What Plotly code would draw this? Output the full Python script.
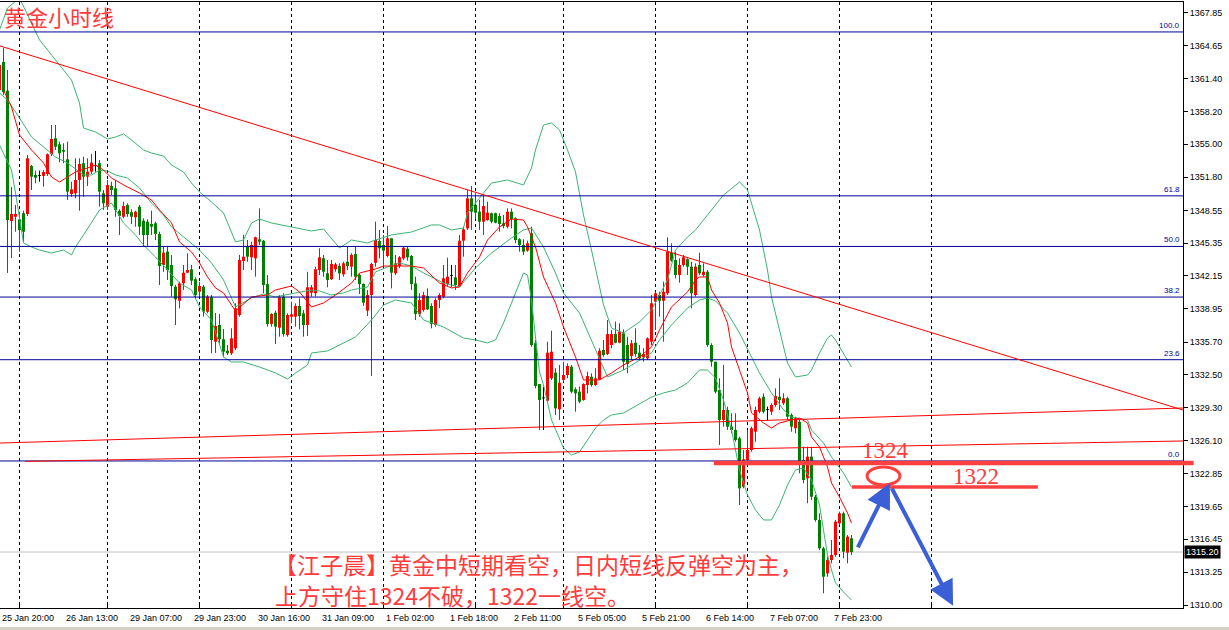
import plotly.graph_objects as go

# ---------------- hourly candles (bar index starts at -1) ----------------
FIRST_BAR = -1
OPEN = [
    1360.30, 1363.04, 1360.24, 1347.52, 1347.93, 1347.68, 1348.27, 1348.20, 1352.88, 1352.01,
    1351.91, 1351.91, 1352.10, 1354.06, 1355.59, 1355.00, 1354.45, 1353.54, 1350.15, 1350.22,
    1351.52, 1353.15, 1351.84, 1352.33, 1352.88, 1353.15, 1350.22, 1348.91, 1350.93, 1350.71,
    1348.52, 1347.93, 1349.08, 1348.37, 1347.88, 1348.91, 1347.54, 1347.45, 1347.22, 1347.29,
    1346.25, 1343.22, 1344.52, 1343.22, 1341.10, 1339.73, 1341.43, 1342.47, 1342.80, 1341.83,
    1340.61, 1341.10, 1338.66, 1340.07, 1335.73, 1337.36, 1335.97, 1334.85, 1334.60, 1335.09,
    1338.34, 1343.61, 1345.00, 1343.97, 1343.87, 1345.73, 1345.59, 1341.36, 1337.46, 1338.56,
    1337.10, 1340.13, 1336.39, 1338.17, 1338.17, 1339.22, 1338.50, 1337.36, 1340.52, 1340.46,
    1342.73, 1343.87, 1342.41, 1341.83, 1342.80, 1343.12, 1342.31, 1343.54, 1343.05, 1344.29,
    1342.24, 1341.36, 1338.76, 1340.29, 1343.44, 1345.56, 1345.17, 1344.10, 1345.83, 1342.41,
    1343.12, 1343.87, 1344.81, 1344.10, 1341.43, 1338.41, 1338.83, 1340.19, 1339.22, 1337.36,
    1339.80, 1340.13, 1341.36, 1342.15, 1342.02, 1341.17, 1345.59, 1346.80, 1349.73, 1349.08,
    1348.42, 1347.45, 1347.61, 1348.27, 1348.27, 1348.00, 1347.29, 1346.96, 1348.42, 1347.78,
    1345.73, 1345.17, 1344.62, 1346.32, 1335.58, 1331.60, 1330.21, 1329.97, 1332.16, 1332.71,
    1329.13, 1332.00, 1332.48, 1333.29, 1331.09, 1330.85, 1330.04, 1331.50, 1332.31, 1331.50,
    1332.06, 1334.92, 1334.53, 1335.41, 1336.48, 1335.63, 1336.55, 1335.41, 1334.34, 1335.63,
    1334.66, 1334.21, 1334.11, 1335.73, 1339.64, 1340.29, 1339.73, 1340.46, 1344.42, 1343.71,
    1342.24, 1343.22, 1343.78, 1343.05, 1340.29, 1343.22, 1342.24, 1342.56, 1335.41, 1333.78,
    1331.02, 1328.09, 1329.07, 1327.44, 1327.11, 1326.30, 1321.58, 1324.18, 1325.16, 1326.95,
    1328.90, 1330.36, 1329.07, 1328.90, 1329.55, 1330.36, 1329.72, 1330.21, 1328.58, 1327.28,
    1327.92, 1324.18, 1322.40, 1324.51, 1320.60, 1318.33, 1315.56, 1313.12, 1314.42, 1314.91,
    1318.00, 1318.98, 1315.14, 1316.54,
]
HIGH = [
    1363.04, 1364.40, 1362.26, 1350.84, 1349.08, 1348.42, 1348.52, 1353.96, 1352.98, 1352.43,
    1352.43, 1352.49, 1354.12, 1356.89, 1356.89, 1355.26, 1355.10, 1355.26, 1351.35, 1353.64,
    1353.64, 1353.79, 1353.64, 1354.06, 1354.35, 1353.47, 1350.54, 1351.52, 1351.35, 1351.52,
    1348.66, 1349.40, 1349.24, 1348.66, 1348.52, 1349.08, 1347.78, 1347.68, 1348.52, 1347.45,
    1346.47, 1345.00, 1345.00, 1344.20, 1341.27, 1341.59, 1343.22, 1344.36, 1343.22, 1342.02,
    1341.59, 1341.27, 1340.29, 1340.29, 1338.53, 1338.44, 1336.97, 1335.41, 1337.04, 1339.48,
    1344.20, 1346.15, 1345.66, 1345.49, 1345.98, 1348.75, 1345.66, 1342.24, 1338.50, 1338.76,
    1340.29, 1340.46, 1338.50, 1339.64, 1339.48, 1339.97, 1338.83, 1342.56, 1341.27, 1343.05,
    1344.85, 1344.20, 1343.71, 1343.71, 1343.44, 1343.38, 1343.54, 1345.00, 1344.36, 1345.00,
    1342.41, 1341.43, 1340.78, 1343.44, 1347.45, 1346.64, 1346.15, 1347.03, 1345.83, 1344.20,
    1344.10, 1345.00, 1345.00, 1344.20, 1342.08, 1340.46, 1340.61, 1340.94, 1339.48, 1339.97,
    1340.46, 1343.22, 1343.93, 1343.22, 1343.22, 1346.15, 1346.96, 1350.54, 1350.93, 1350.22,
    1349.57, 1350.05, 1349.40, 1348.33, 1348.33, 1348.27, 1348.10, 1348.75, 1348.75, 1347.88,
    1345.83, 1345.73, 1345.59, 1346.96, 1335.90, 1331.60, 1331.34, 1335.73, 1336.81, 1333.14,
    1333.46, 1333.78, 1333.62, 1333.46, 1331.28, 1331.34, 1331.67, 1332.80, 1332.65, 1333.14,
    1335.09, 1335.90, 1337.85, 1336.87, 1337.69, 1337.53, 1336.94, 1336.22, 1335.90, 1337.04,
    1335.41, 1335.09, 1336.16, 1340.29, 1340.61, 1340.61, 1341.59, 1345.92, 1345.34, 1344.52,
    1343.87, 1344.20, 1343.87, 1343.54, 1343.38, 1344.42, 1343.38, 1342.73, 1335.58, 1333.78,
    1332.16, 1333.46, 1329.39, 1328.74, 1328.74, 1326.46, 1325.16, 1327.11, 1327.44, 1329.39,
    1330.36, 1330.69, 1329.39, 1329.72, 1331.18, 1332.16, 1330.69, 1330.36, 1328.74, 1328.41,
    1328.09, 1325.48, 1325.48, 1325.48, 1320.77, 1318.98, 1315.72, 1314.75, 1316.37, 1318.33,
    1319.14, 1319.14, 1316.86, 1316.86,
]
LOW = [
    1359.82, 1359.82, 1342.44, 1343.90, 1346.47, 1344.52, 1345.49, 1348.00, 1350.54, 1351.20,
    1351.35, 1350.86, 1351.91, 1353.86, 1354.45, 1353.25, 1353.15, 1349.57, 1349.89, 1349.73,
    1348.52, 1349.89, 1350.93, 1352.10, 1352.33, 1348.91, 1348.59, 1348.59, 1350.05, 1347.93,
    1346.15, 1347.78, 1347.93, 1347.22, 1346.96, 1346.15, 1345.00, 1345.07, 1346.15, 1345.66,
    1341.27, 1342.56, 1341.76, 1340.13, 1337.36, 1338.99, 1340.78, 1342.41, 1341.27, 1339.97,
    1340.13, 1338.17, 1338.50, 1334.60, 1334.63, 1335.57, 1334.21, 1334.43, 1334.43, 1334.92,
    1338.17, 1342.73, 1343.54, 1342.73, 1342.08, 1345.17, 1340.46, 1337.20, 1337.20, 1335.51,
    1336.22, 1336.22, 1336.22, 1337.53, 1337.20, 1336.94, 1336.22, 1336.29, 1340.13, 1340.13,
    1342.24, 1342.08, 1341.04, 1341.76, 1342.56, 1341.76, 1342.08, 1342.73, 1342.08, 1341.76,
    1340.39, 1339.22, 1338.24, 1332.38, 1343.05, 1343.87, 1343.05, 1343.97, 1340.94, 1342.24,
    1342.90, 1343.71, 1343.64, 1340.78, 1337.85, 1338.17, 1338.66, 1338.83, 1337.04, 1337.20,
    1339.00, 1339.97, 1341.17, 1341.10, 1340.78, 1341.10, 1344.03, 1346.64, 1346.64, 1347.68,
    1346.64, 1346.15, 1347.54, 1347.29, 1347.29, 1346.47, 1346.80, 1346.80, 1346.80, 1345.34,
    1344.52, 1344.20, 1344.52, 1335.24, 1331.18, 1327.11, 1327.11, 1329.88, 1332.00, 1328.58,
    1328.09, 1331.83, 1332.16, 1330.69, 1328.90, 1329.72, 1329.97, 1330.69, 1331.34, 1331.41,
    1332.00, 1334.27, 1334.43, 1335.09, 1335.58, 1335.58, 1332.97, 1332.65, 1333.95, 1334.27,
    1333.95, 1333.78, 1333.95, 1335.41, 1336.87, 1338.17, 1335.73, 1340.29, 1343.54, 1341.92,
    1341.49, 1343.05, 1342.24, 1338.99, 1340.13, 1342.24, 1342.08, 1335.24, 1333.29, 1330.69,
    1325.65, 1327.44, 1327.11, 1326.79, 1325.97, 1319.79, 1321.42, 1323.86, 1325.00, 1325.97,
    1328.74, 1328.74, 1328.02, 1328.58, 1329.39, 1329.07, 1329.55, 1328.09, 1326.95, 1326.79,
    1322.88, 1321.91, 1319.96, 1320.28, 1318.16, 1315.40, 1311.17, 1312.79, 1314.10, 1314.75,
    1317.84, 1314.59, 1314.10, 1314.91,
]
CLOSE = [
    1362.74, 1360.11, 1347.61, 1348.20, 1348.20, 1346.64, 1346.47, 1353.64, 1351.84, 1351.74,
    1351.91, 1352.30, 1354.03, 1355.52, 1354.77, 1354.12, 1354.28, 1350.38, 1350.61, 1351.52,
    1353.08, 1351.84, 1352.33, 1353.21, 1352.88, 1350.38, 1349.24, 1351.03, 1350.54, 1348.59,
    1348.00, 1348.98, 1348.20, 1347.93, 1348.42, 1346.96, 1346.15, 1346.15, 1346.96, 1346.25,
    1343.12, 1344.42, 1342.73, 1341.17, 1339.87, 1341.43, 1342.47, 1342.73, 1341.69, 1340.29,
    1341.17, 1338.66, 1340.13, 1335.90, 1337.27, 1335.97, 1334.76, 1334.60, 1336.06, 1338.99,
    1343.71, 1344.03, 1344.03, 1345.17, 1345.92, 1345.49, 1341.27, 1337.46, 1338.44, 1337.20,
    1340.07, 1336.48, 1338.34, 1338.41, 1339.22, 1338.24, 1337.36, 1341.04, 1341.04, 1342.80,
    1343.97, 1342.56, 1341.76, 1343.32, 1343.29, 1342.41, 1343.38, 1343.12, 1344.20, 1342.08,
    1341.36, 1339.54, 1340.29, 1343.32, 1345.66, 1344.85, 1344.62, 1345.83, 1342.47, 1343.38,
    1343.97, 1344.91, 1343.97, 1341.36, 1338.44, 1339.80, 1340.29, 1338.89, 1337.46, 1339.80,
    1340.29, 1341.92, 1342.08, 1342.15, 1341.27, 1345.59, 1346.70, 1349.73, 1348.42, 1348.33,
    1347.45, 1348.98, 1348.33, 1347.45, 1347.35, 1347.22, 1347.03, 1348.42, 1347.68, 1345.66,
    1345.17, 1344.52, 1345.34, 1335.41, 1331.41, 1330.04, 1330.21, 1334.66, 1334.76, 1329.23,
    1331.73, 1332.48, 1333.36, 1330.85, 1330.69, 1329.88, 1331.60, 1332.38, 1331.50, 1332.16,
    1334.85, 1334.43, 1336.48, 1336.48, 1335.63, 1336.71, 1333.78, 1333.56, 1335.58, 1334.53,
    1334.11, 1334.53, 1336.06, 1339.48, 1340.46, 1339.73, 1340.61, 1344.52, 1343.64, 1342.24,
    1343.22, 1343.97, 1343.05, 1340.46, 1343.05, 1342.41, 1342.56, 1335.41, 1333.78, 1330.85,
    1328.09, 1329.07, 1327.44, 1327.11, 1326.14, 1321.42, 1324.25, 1325.16, 1327.28, 1329.07,
    1330.21, 1328.90, 1329.07, 1329.55, 1330.43, 1330.04, 1330.21, 1328.41, 1327.44, 1328.25,
    1323.86, 1322.23, 1324.51, 1320.60, 1318.33, 1315.56, 1312.79, 1314.42, 1314.91, 1318.16,
    1318.98, 1315.23, 1316.70, 1315.20,
]
BARS = list(range(FIRST_BAR, FIRST_BAR + len(CLOSE)))

# ---------------- indicator lines ----------------
UPPER_BARS = [-1, 1, 4, 9, 14, 17, 19, 20, 23, 26, 28, 30, 32, 35, 37, 40, 42, 45, 47, 49,
              52, 55, 58, 60, 62, 64, 67, 72, 77, 80, 84, 87, 91, 93, 97, 102, 107, 109, 112, 115,
              116, 118, 120, 122, 126, 130, 132, 133, 135, 137, 139, 141, 143, 145, 147, 149, 150, 152, 155, 159,
              162, 166, 168, 171, 173, 177, 180, 184, 186, 189, 191, 192, 194, 196, 198, 201, 202, 204, 206, 207,
              208, 210, 212]
UPPER = [1366.16, 1368.31, 1369.29, 1365.19, 1362.74, 1361.28, 1359.03, 1356.59, 1356.20, 1355.52,
         1355.72, 1356.01, 1355.42, 1354.45, 1354.15, 1353.86, 1352.98, 1352.30, 1351.22, 1350.35,
         1349.37, 1348.30, 1345.47, 1345.66, 1347.32, 1347.71, 1347.32, 1346.93, 1346.54, 1346.74,
         1344.88, 1345.66, 1345.37, 1345.66, 1346.15, 1346.44, 1347.13, 1347.13, 1346.64, 1346.83,
         1348.30, 1349.27, 1350.25, 1351.22, 1351.52, 1351.03, 1352.69, 1354.45, 1356.89, 1357.08,
         1356.40, 1354.45, 1352.30, 1348.10, 1344.68, 1341.27, 1339.32, 1337.07, 1336.58, 1337.66,
         1338.83, 1341.76, 1344.68, 1345.95, 1346.64, 1348.59, 1350.05, 1351.32, 1350.54, 1346.64,
         1342.73, 1340.10, 1336.87, 1333.65, 1332.29, 1332.48, 1332.97, 1334.63, 1336.09, 1336.39,
         1335.90, 1334.63, 1333.26]

MIDDLE_BARS = [-1, 1, 4, 7, 10, 13, 16, 20, 22, 24, 26, 28, 31, 34, 37, 40, 42, 46, 49, 52,
               55, 58, 62, 65, 68, 73, 77, 79, 82, 85, 87, 91, 93, 96, 99, 102, 105, 110, 114, 118,
               122, 127, 130, 132, 135, 138, 140, 144, 147, 150, 151, 155, 159, 162, 164, 167, 171, 174, 176, 178,
               181, 184, 187, 189, 192, 195, 197, 201, 202, 205, 207, 210, 212]
MIDDLE = [1360.01, 1359.33, 1357.57, 1355.72, 1354.74, 1353.76, 1353.18, 1352.01, 1352.01, 1352.49,
          1352.40, 1352.01, 1351.71, 1350.74, 1349.27, 1348.10, 1346.93, 1345.66, 1344.68, 1343.42,
          1341.76, 1339.12, 1340.00, 1340.39, 1340.10, 1340.49, 1340.78, 1340.68, 1340.29, 1340.49,
          1340.78, 1341.07, 1342.54, 1343.03, 1343.42, 1343.12, 1342.44, 1341.46, 1341.07, 1342.93,
          1344.39, 1345.86, 1346.64, 1346.83, 1344.98, 1342.44, 1340.49, 1338.53, 1335.90, 1333.26,
          1332.29, 1332.97, 1333.95, 1334.63, 1335.90, 1337.36, 1339.02, 1339.80, 1340.00, 1339.71,
          1338.53, 1336.58, 1334.24, 1332.68, 1330.73, 1329.07, 1328.38, 1328.09, 1327.11, 1325.84,
          1324.48, 1322.91, 1321.55]

LOWER_BARS = [-1, 0, 2, 3, 4, 5, 7, 9, 12, 15, 17, 18, 20, 22, 24, 27, 30, 33, 35, 38,
              41, 44, 47, 49, 52, 55, 57, 60, 64, 68, 71, 73, 76, 77, 81, 85, 88, 92, 95, 98,
              102, 105, 110, 115, 118, 121, 123, 125, 128, 130, 131, 132, 133, 134, 135, 137, 140, 142, 144, 146,
              148, 150, 152, 155, 159, 162, 165, 168, 171, 174, 176, 178, 180, 182, 184, 186, 188, 190, 192, 194,
              196, 198, 200, 202, 204, 205, 206, 207, 208, 210, 212]
LOWER = [1354.93, 1354.15, 1352.49, 1350.25, 1347.61, 1345.37, 1344.98, 1344.68, 1344.39, 1344.68,
         1344.20, 1344.98, 1346.15, 1347.32, 1348.59, 1349.27, 1347.32, 1346.15, 1345.17, 1344.00,
         1342.73, 1341.46, 1340.78, 1339.12, 1337.85, 1334.24, 1333.75, 1333.75, 1333.26, 1332.68,
         1332.09, 1332.68, 1333.46, 1334.63, 1334.83, 1335.61, 1336.19, 1337.85, 1339.32, 1339.80,
         1339.51, 1337.85, 1337.17, 1336.09, 1335.90, 1335.61, 1335.90, 1337.56, 1340.49, 1342.44,
         1342.24, 1339.80, 1336.19, 1332.78, 1331.51, 1328.09, 1325.36, 1324.67, 1324.97, 1326.14,
         1327.31, 1328.09, 1328.58, 1328.77, 1329.65, 1330.33, 1330.73, 1331.02, 1331.70, 1332.97,
         1332.97, 1332.19, 1330.04, 1327.11, 1323.21, 1320.77, 1319.30, 1318.33, 1318.33, 1319.79,
         1321.74, 1323.21, 1323.40, 1322.23, 1319.79, 1317.35, 1314.91, 1313.45, 1312.18, 1311.30,
         1310.52]

MA_BARS = [0, 2, 4, 7, 10, 12, 14, 16, 18, 21, 23, 25, 27, 31, 34, 37, 39, 42, 44, 47,
           49, 51, 53, 55, 58, 62, 66, 68, 72, 74, 77, 80, 83, 87, 89, 93, 95, 98, 102, 105,
           109, 112, 114, 116, 119, 121, 124, 127, 130, 131, 133, 135, 138, 140, 143, 145, 149, 152, 155, 159,
           162, 164, 167, 171, 173, 174, 176, 177, 179, 181, 182, 184, 186, 187, 190, 192, 194, 197, 199, 201,
           202, 204, 206, 207, 209, 211, 212]
MA = [1360.30, 1358.64, 1355.91, 1354.45, 1353.18, 1351.81, 1351.32, 1351.81, 1352.30, 1352.69,
      1352.98, 1352.49, 1351.71, 1350.83, 1350.25, 1349.57, 1348.59, 1347.32, 1345.47, 1344.49,
      1343.42, 1342.05, 1340.98, 1340.49, 1338.73, 1340.10, 1340.29, 1340.78, 1341.17, 1340.59,
      1339.12, 1339.51, 1340.29, 1341.46, 1342.44, 1342.83, 1343.12, 1343.12, 1343.12, 1342.93,
      1341.46, 1340.98, 1341.07, 1342.44, 1344.00, 1345.66, 1346.93, 1347.71, 1347.61, 1346.93,
      1344.98, 1342.05, 1339.51, 1337.17, 1334.24, 1332.00, 1332.00, 1332.68, 1333.46, 1334.24,
      1335.22, 1336.87, 1339.12, 1340.59, 1341.76, 1342.05, 1342.05, 1340.78, 1339.51, 1337.56,
      1335.22, 1332.97, 1330.73, 1328.77, 1327.80, 1327.31, 1327.80, 1328.09, 1328.28, 1327.80,
      1326.43, 1325.45, 1323.50, 1321.94, 1320.57, 1319.01, 1318.03]

# ---------------- axes ----------------
X_LABEL_BARS = [0, 16, 32, 48, 64, 80, 96, 112, 128, 144, 160, 176, 192, 208]
X_LABELS = ["25 Jan 20:00", "26 Jan 13:00", "29 Jan 07:00", "29 Jan 23:00", "30 Jan 16:00",
            "31 Jan 09:00", "1 Feb 02:00", "1 Feb 18:00", "2 Feb 11:00", "5 Feb 05:00",
            "5 Feb 21:00", "6 Feb 14:00", "7 Feb 07:00", "7 Feb 23:00"]
GRID_BARS = [4, 26, 49, 72, 95, 118, 140, 163, 186, 209, 232]
Y_TICKS = [1310.00, 1313.25, 1316.45, 1319.65, 1322.85, 1326.10, 1329.30, 1332.50, 1335.70,
           1338.95, 1342.15, 1345.35, 1348.55, 1351.80, 1355.00, 1358.20, 1361.40, 1364.65, 1367.85]
X_RANGE = [-0.875, 294.875]
Y_RANGE = [1309.736, 1368.893]

# ---------------- drawn objects ----------------
FIB_LOW, FIB_HIGH = 1324.09, 1365.97
FIB_PCT = [0.0, 23.6, 38.2, 50.0, 61.8, 100.0]
TREND_DOWN_BARS, TREND_DOWN = [-0.875, 294.875], [1364.60, 1329.06]
CHAN_UP_BARS, CHAN_UP = [-0.875, 294.875], [1325.84, 1329.26]
CHAN_LOW_BARS, CHAN_LOW = [5.4, 294.875], [1324.05, 1326.04]
LEVEL_1324_BARS, LEVEL_1324 = [177.6, 294.875], 1323.89
LEVEL_1322_BARS, LEVEL_1322 = [212.1, 258.6], 1321.55
ELLIPSE_BARS, ELLIPSE_PRICES = [215.9, 224.1], [1321.74, 1323.50]
ARROW_UP_TAIL, ARROW_UP_HEAD = (213.4, 1315.50), (221.6, 1321.94)
ARROW_DN_TAIL, ARROW_DN_HEAD = (221.9, 1321.55), (237.4, 1309.95)
LAST_PRICE = 1315.20

TITLE = "黄金小时线"
NOTE_1 = "【江子晨】黄金中短期看空，日内短线反弹空为主，"
NOTE_2 = "上方守住1324不破，1322一线空。"

UP, DOWN, DOJI = "#ff0000", "#008000", "#000000"
BB_COLOR = "#3cb371"
FIB_COLOR = "#000096"
MARK_RED = "#ff4040"
TEXT_RED = "#ff3c3c"
ARROW_BLUE = "#3b5fd6"
LABEL_FONT = "Liberation Sans"
CJK_FONT = "Noto Sans CJK SC"

fig = go.Figure()

# last price line
fig.add_shape(type="line", xref="paper", x0=0, x1=1, yref="y", y0=LAST_PRICE, y1=LAST_PRICE,
              line=dict(color="#c0c0c0", width=1), layer="below")

# candles
colors = [UP if c > o else (DOWN if c < o else DOJI) for o, c in zip(OPEN, CLOSE)]
for col in (UP, DOWN, DOJI):
    xs, ys = [], []
    for b, h, l, cc in zip(BARS, HIGH, LOW, colors):
        if cc == col:
            xs += [b, b, None]
            ys += [l, h, None]
    fig.add_trace(go.Scatter(x=xs, y=ys, mode="lines", line=dict(color=col, width=1),
                             hoverinfo="skip"))
body_base = [min(o, c) for o, c in zip(OPEN, CLOSE)]
body_h = [max(abs(c - o), 0.08) for o, c in zip(OPEN, CLOSE)]
fig.add_trace(go.Bar(x=BARS, y=body_h, base=body_base, width=0.75,
                     marker=dict(color=colors, line=dict(width=0)), hoverinfo="skip"))

# indicators
for bx, vals in ((UPPER_BARS, UPPER), (MIDDLE_BARS, MIDDLE), (LOWER_BARS, LOWER)):
    fig.add_trace(go.Scatter(x=bx, y=vals, mode="lines", line=dict(color=BB_COLOR, width=1),
                             hoverinfo="skip"))
fig.add_trace(go.Scatter(x=MA_BARS, y=MA, mode="lines", line=dict(color="#ff0000", width=1),
                         hoverinfo="skip"))

# fibonacci levels
fib_prices = [FIB_LOW + (FIB_HIGH - FIB_LOW) * p / 100.0 for p in FIB_PCT]
for p in fib_prices:
    fig.add_trace(go.Scatter(x=X_RANGE, y=[p, p], mode="lines",
                             line=dict(color=FIB_COLOR, width=1), hoverinfo="skip"))

# trend lines
for bx, vals in ((TREND_DOWN_BARS, TREND_DOWN), (CHAN_UP_BARS, CHAN_UP), (CHAN_LOW_BARS, CHAN_LOW)):
    fig.add_trace(go.Scatter(x=bx, y=vals, mode="lines", line=dict(color="#ff0000", width=1),
                             hoverinfo="skip"))

# thick key levels
fig.add_trace(go.Scatter(x=LEVEL_1324_BARS, y=[LEVEL_1324] * 2, mode="lines",
                         line=dict(color=MARK_RED, width=4.5), hoverinfo="skip"))
fig.add_trace(go.Scatter(x=LEVEL_1322_BARS, y=[LEVEL_1322] * 2, mode="lines",
                         line=dict(color=MARK_RED, width=3.5), hoverinfo="skip"))
fig.add_shape(type="line", xref="paper", x0=1, x1=1.009, yref="y", y0=LEVEL_1324, y1=LEVEL_1324,
              line=dict(color=MARK_RED, width=4.5))
fig.add_shape(type="circle", xref="x", yref="y", x0=ELLIPSE_BARS[0], x1=ELLIPSE_BARS[1],
              y0=ELLIPSE_PRICES[0], y1=ELLIPSE_PRICES[1], line=dict(color=MARK_RED, width=3))

# window frame strip at the very bottom
fig.add_shape(type="rect", xref="paper", yref="paper", x0=-0.01, x1=1.05, y0=-0.0365, y1=-0.0314,
              fillcolor="#d4d0c8", line=dict(width=0))

ann = []
# x labels
for b, t in zip(X_LABEL_BARS, X_LABELS):
    ann.append(dict(x=b, xref="x", y=0, yref="paper", text=t, showarrow=False, xanchor="left",
                    yanchor="top", xshift=-3.5, yshift=-3,
                    font=dict(family=LABEL_FONT, size=9, color="black")))
# fib labels
for pct, p in zip(FIB_PCT, fib_prices):
    ann.append(dict(x=1, xref="paper", y=p, yref="y", text=f"{pct:.1f}", showarrow=False,
                    xanchor="right", yanchor="bottom", xshift=-1, yshift=0,
                    font=dict(family=LABEL_FONT, size=8, color=FIB_COLOR)))
# last price box
ann.append(dict(x=1, xref="paper", y=LAST_PRICE, yref="y", text=f"{LAST_PRICE:.2f}", showarrow=False,
                xanchor="left", yanchor="middle", xshift=1, bgcolor="black", borderpad=1,
                font=dict(family=LABEL_FONT, size=9, color="white")))
# texts
ann.append(dict(x=0.0017, xref="paper", y=0.9765, yref="paper", text=TITLE, showarrow=False,
                xanchor="left", yanchor="middle", font=dict(family=CJK_FONT, size=22, color=TEXT_RED)))
ann.append(dict(x=0.2299, xref="paper", y=0.0726, yref="paper", text=NOTE_1, showarrow=False,
                xanchor="left", yanchor="middle", font=dict(family=CJK_FONT, size=23, color=TEXT_RED)))
ann.append(dict(x=0.2308, xref="paper", y=0.0215, yref="paper", text=NOTE_2, showarrow=False,
                xanchor="left", yanchor="middle", font=dict(family=CJK_FONT, size=23, color=TEXT_RED)))
ann.append(dict(x=0.7485, xref="paper", y=0.2591, yref="paper", text="1324", showarrow=False,
                xanchor="center", yanchor="middle",
                font=dict(family="Liberation Serif", size=23, color=TEXT_RED)))
ann.append(dict(x=0.8246, xref="paper", y=0.2170, yref="paper", text="1322", showarrow=False,
                xanchor="center", yanchor="middle",
                font=dict(family="Liberation Serif", size=23, color=TEXT_RED)))
# arrows
for tail, head in ((ARROW_UP_TAIL, ARROW_UP_HEAD), (ARROW_DN_TAIL, ARROW_DN_HEAD)):
    ann.append(dict(x=head[0], y=head[1], xref="x", yref="y", ax=tail[0], ay=tail[1],
                    axref="x", ayref="y", text="", showarrow=True, arrowhead=2, arrowsize=1.25,
                    arrowwidth=4, arrowcolor=ARROW_BLUE, standoff=0, startstandoff=0))

fig.update_layout(
    width=1229, height=630, margin=dict(l=0, r=46, t=2, b=22),
    plot_bgcolor="white", paper_bgcolor="white", showlegend=False, barmode="overlay",
    annotations=ann,
    xaxis=dict(range=X_RANGE, tickvals=GRID_BARS, ticks="inside", ticklen=4, tickcolor="black",
               showticklabels=False, showgrid=True, gridcolor="black", griddash="3px,3px",
               gridwidth=1, showline=True, linecolor="black", linewidth=1, mirror=True,
               zeroline=False),
    yaxis=dict(side="right", range=Y_RANGE, tickvals=Y_TICKS,
               ticktext=[f"{v:.2f}" for v in Y_TICKS], ticks="outside", ticklen=4,
               tickcolor="black", showgrid=False, showline=True, linecolor="black", linewidth=1,
               mirror=True, zeroline=False,
               tickfont=dict(family=LABEL_FONT, size=9, color="black")),
)

fig.write_html("out.html", config={"displayModeBar": False, "staticPlot": True},
               post_script="document.body.style.margin='0';document.body.style.overflow='hidden';")
